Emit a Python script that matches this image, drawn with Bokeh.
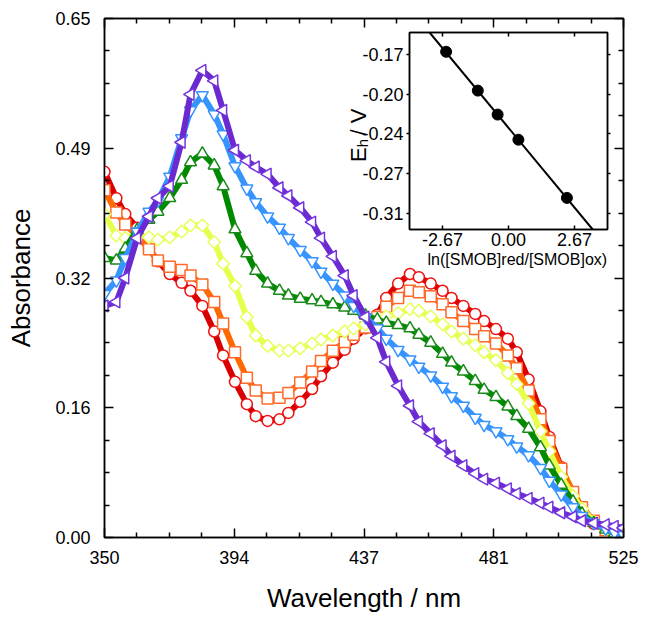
import math
from bokeh.plotting import figure
from bokeh.models import FixedTicker, LinearAxis, Label, Slope, ColumnDataSource
from bokeh.embed import file_html
from bokeh.resources import INLINE

# ---------------- data ----------------
wavelength = [350, 354, 357, 361, 365, 368, 372, 376, 379, 383, 387, 390, 394, 398, 401,
              405, 409, 412, 416, 420, 423, 427, 431, 434, 438, 442, 445, 449, 453, 456,
              460, 464, 467, 471, 475, 478, 482, 486, 489, 493, 497, 500, 504, 508, 511,
              515, 519, 522, 525]

abs_red = [0.458, 0.425, 0.405, 0.388, 0.362, 0.346, 0.330, 0.319, 0.309, 0.290, 0.258, 0.228,
           0.195, 0.167, 0.152, 0.146, 0.148, 0.156, 0.170, 0.186, 0.202, 0.219, 0.235, 0.249,
           0.262, 0.279, 0.300, 0.318, 0.330, 0.326, 0.318, 0.309, 0.300, 0.290, 0.280, 0.271,
           0.261, 0.249, 0.232, 0.198, 0.158, 0.126, 0.088, 0.054, 0.033, 0.017, 0.009, 0.004,
           0.002]
abs_orange = [0.435, 0.407, 0.392, 0.378, 0.361, 0.347, 0.339, 0.335, 0.328, 0.317, 0.295, 0.268,
              0.232, 0.200, 0.184, 0.174, 0.175, 0.181, 0.194, 0.208, 0.221, 0.234, 0.245, 0.254,
              0.263, 0.276, 0.289, 0.300, 0.309, 0.307, 0.302, 0.292, 0.282, 0.271, 0.261, 0.252,
              0.243, 0.228, 0.212, 0.184, 0.148, 0.121, 0.086, 0.057, 0.038, 0.021, 0.009, 0.004,
              0.002]
abs_yellow = [0.405, 0.378, 0.375, 0.380, 0.376, 0.373, 0.376, 0.383, 0.391, 0.391, 0.370, 0.343,
              0.315, 0.276, 0.253, 0.240, 0.234, 0.234, 0.237, 0.243, 0.248, 0.253, 0.258, 0.262,
              0.267, 0.272, 0.277, 0.281, 0.286, 0.284, 0.277, 0.267, 0.258, 0.249, 0.241, 0.232,
              0.222, 0.206, 0.192, 0.168, 0.133, 0.108, 0.076, 0.052, 0.036, 0.020, 0.010, 0.005,
              0.002]
abs_green = [0.350, 0.347, 0.362, 0.385, 0.398, 0.408, 0.425, 0.448, 0.470, 0.481, 0.466, 0.440,
             0.386, 0.356, 0.334, 0.318, 0.309, 0.303, 0.299, 0.297, 0.295, 0.292, 0.288, 0.284,
             0.278, 0.273, 0.269, 0.266, 0.262, 0.254, 0.244, 0.230, 0.219, 0.208, 0.196, 0.185,
             0.176, 0.164, 0.152, 0.136, 0.113, 0.090, 0.066, 0.045, 0.030, 0.018, 0.010, 0.005,
             0.002]
abs_blue = [0.305, 0.322, 0.350, 0.383, 0.408, 0.422, 0.452, 0.500, 0.535, 0.554, 0.530, 0.505,
            0.465, 0.437, 0.420, 0.402, 0.388, 0.375, 0.360, 0.346, 0.333, 0.318, 0.303, 0.290,
            0.276, 0.262, 0.249, 0.235, 0.223, 0.214, 0.203, 0.189, 0.177, 0.165, 0.150, 0.141,
            0.133, 0.123, 0.114, 0.103, 0.087, 0.071, 0.054, 0.038, 0.027, 0.018, 0.011, 0.006,
            0.003]
abs_purple = [0.290, 0.295, 0.325, 0.375, 0.402, 0.425, 0.440, 0.495, 0.555, 0.585, 0.572, 0.535,
              0.485, 0.472, 0.464, 0.455, 0.438, 0.428, 0.413, 0.395, 0.375, 0.352, 0.328, 0.303,
              0.276, 0.250, 0.220, 0.190, 0.165, 0.145, 0.130, 0.115, 0.102, 0.090, 0.080, 0.073,
              0.068, 0.061, 0.055, 0.049, 0.043, 0.038, 0.031, 0.026, 0.021, 0.018, 0.016, 0.014,
              0.012]

x_ticks = [350, 393.75, 437.5, 481.25, 525]
x_tick_labels = ["350", "394", "437", "481", "525"]
y_ticks = [0.0, 0.1625, 0.325, 0.4875, 0.65]
y_tick_labels = ["0.00", "0.16", "0.32", "0.49", "0.65"]

# inset: Nernst plot
ln_ratio = [-2.52, -1.24, -0.44, 0.40, 2.36]
eh_volts = [-0.168, -0.202, -0.223, -0.245, -0.296]
fit_slope = -0.0262
fit_intercept = -0.2346
inset_x_ticks = [-2.667, 0.0, 2.667]
inset_x_labels = ["-2.67", "0.00", "2.67"]
inset_y_ticks = [-0.17, -0.205, -0.24, -0.275, -0.31]
inset_y_labels = ["-0.17", "-0.20", "-0.24", "-0.27", "-0.31"]

FONT = "Liberation Sans"

# ---------------- main figure ----------------
p = figure(width=649, height=624, x_range=(350, 525), y_range=(0, 0.65),
           output_backend="svg", toolbar_location=None, name="main",
           min_border_left=104, min_border_right=26, min_border_top=18, min_border_bottom=87,
           background_fill_color="white", border_fill_color="white")
p.grid.visible = False
p.outline_line_color = "black"
p.outline_line_width = 1.5


def minor_list(ticks, n):
    out = []
    for a, b in zip(ticks[:-1], ticks[1:]):
        for k in range(1, n):
            out.append(a + (b - a) * k / n)
    return out


xt = FixedTicker(ticks=x_ticks, minor_ticks=minor_list(x_ticks, 4))
yt = FixedTicker(ticks=y_ticks, minor_ticks=minor_list(y_ticks, 4))


def style_axis(ax, ticker, labels, ticks, show=True):
    ax.ticker = ticker
    ax.axis_line_width = 1.5
    ax.major_tick_line_width = 1.5
    ax.minor_tick_line_width = 1.5
    ax.major_tick_in = 9
    ax.major_tick_out = 0
    ax.minor_tick_in = 5
    ax.minor_tick_out = 0
    ax.major_label_text_font = FONT
    if show:
        ax.major_label_overrides = {t: l for t, l in zip(ticks, labels)}
        ax.major_label_text_font_size = "18px"
        ax.major_label_text_color = "black"
    else:
        ax.major_label_overrides = {t: "" for t in ticks}
        ax.major_label_text_font_size = "0px"
        ax.major_label_standoff = 0


style_axis(p.xaxis[0], xt, x_tick_labels, x_ticks)
style_axis(p.yaxis[0], yt, y_tick_labels, y_ticks)
p.xaxis[0].major_label_standoff = 13
p.yaxis[0].major_label_standoff = 14
p.xaxis[0].axis_label = "Wavelength / nm"
p.yaxis[0].axis_label = "Absorbance"
for ax in (p.xaxis[0], p.yaxis[0]):
    ax.axis_label_text_font = FONT
    ax.axis_label_text_font_size = "26px"
    ax.axis_label_text_font_style = "normal"
    ax.axis_label_text_color = "black"
    ax.axis_label_standoff = 16

top_ax = LinearAxis()
style_axis(top_ax, xt, x_tick_labels, x_ticks, show=False)
p.add_layout(top_ax, "above")
right_ax = LinearAxis()
style_axis(right_ax, yt, y_tick_labels, y_ticks, show=False)
p.add_layout(right_ax, "right")

src = ColumnDataSource(dict(wl=wavelength, red=abs_red, orange=abs_orange, yellow=abs_yellow,
                            green=abs_green, blue=abs_blue, purple=abs_purple))

series = [
    ("red", "#d80000", "#f01010", "circle", 0.0, 11),
    ("orange", "#ff6a00", "#ff6a2a", "square", 0.0, 11),
    ("yellow", "#e6ff4d", "#e8ff5a", "square", math.pi / 4, 9),
    ("green", "#008a00", "#1a8a1a", "triangle", 0.0, 12),
    ("blue", "#3794ff", "#3794ff", "inverted_triangle", 0.0, 12),
    ("purple", "#6a2ad0", "#7535dd", "triangle", math.pi / 2, 12),
]
for col, lc, mc, mk, ang, sz in series:
    p.line("wl", col, source=src, line_color=lc, line_width=6, line_join="round")
    p.scatter("wl", col, source=src, marker=mk, angle=ang, size=sz,
              fill_color="white", line_color=mc, line_width=1.5)

# inset axis titles (drawn on the main canvas, underneath the transparent inset border)
lab_kw = dict(angle=math.pi / 2, text_font=FONT, text_color="black",
              text_align="left", text_baseline="alphabetic")
p.add_layout(Label(x=435.74, y=0.4702, text="E", text_font_size="22px", **lab_kw))
p.add_layout(Label(x=437.09, y=0.4887, text="h", text_font_size="15px", **lab_kw))
p.add_layout(Label(x=435.74, y=0.5035, text="/ V", text_font_size="22px", **lab_kw))
p.add_layout(Label(x=489.2, y=0.348, text="ln([SMOB]red/[SMOB]ox)", text_font=FONT,
                   text_font_size="16px", text_color="black", text_align="center",
                   text_baseline="middle"))

# ---------------- inset ----------------
inset = figure(width=258, height=249, x_range=(-4, 4), y_range=(-0.3237, -0.1511),
               output_backend="svg", toolbar_location=None, name="inset",
               min_border_left=50, min_border_right=10, min_border_top=6, min_border_bottom=46,
               background_fill_color="white", border_fill_color=None)
inset.grid.visible = False
inset.outline_line_color = "black"
inset.outline_line_width = 1.5

ixt = FixedTicker(ticks=inset_x_ticks, minor_ticks=[])
iyt = FixedTicker(ticks=inset_y_ticks, minor_ticks=[])


def style_inset_axis(ax, ticker, labels, ticks, tin, tout, show=True):
    ax.ticker = ticker
    ax.axis_line_width = 1.5
    ax.major_tick_line_width = 1.5
    ax.major_tick_in = tin
    ax.major_tick_out = tout
    ax.minor_tick_in = 0
    ax.minor_tick_out = 0
    ax.major_label_text_font = FONT
    if show:
        ax.major_label_overrides = {t: l for t, l in zip(ticks, labels)}
        ax.major_label_text_font_size = "18px"
        ax.major_label_text_color = "black"
    else:
        ax.major_label_overrides = {t: "" for t in ticks}
        ax.major_label_text_font_size = "0px"
        ax.major_label_standoff = 0


style_inset_axis(inset.xaxis[0], ixt, inset_x_labels, inset_x_ticks, 4, 0)
style_inset_axis(inset.yaxis[0], iyt, inset_y_labels, inset_y_ticks, 0, 3)
inset.xaxis[0].major_label_standoff = 3
inset.yaxis[0].major_label_standoff = 3
it = LinearAxis()
style_inset_axis(it, ixt, inset_x_labels, inset_x_ticks, 4, 0, show=False)
inset.add_layout(it, "above")
ir = LinearAxis()
style_inset_axis(ir, iyt, inset_y_labels, inset_y_ticks, 0, 3, show=False)
inset.add_layout(ir, "right")

inset.add_layout(Slope(gradient=fit_slope, y_intercept=fit_intercept,
                       line_color="black", line_width=2))
isrc = ColumnDataSource(dict(x=ln_ratio, y=eh_volts))
inset.scatter("x", "y", source=isrc, marker="circle", size=11,
              fill_color="black", line_color="black")

TEMPLATE = """
{% block contents %}
{% from macros import embed %}
<div style="position:relative; width:649px; height:624px;">
  <div style="position:absolute; left:0px; top:0px;">
    {{ embed(roots.main) }}
  </div>
  <div style="position:absolute; left:359px; top:26px;">
    {{ embed(roots.inset) }}
  </div>
</div>
{% endblock %}
"""

open("out.html", "w").write(file_html([p, inset], INLINE, template=TEMPLATE))
